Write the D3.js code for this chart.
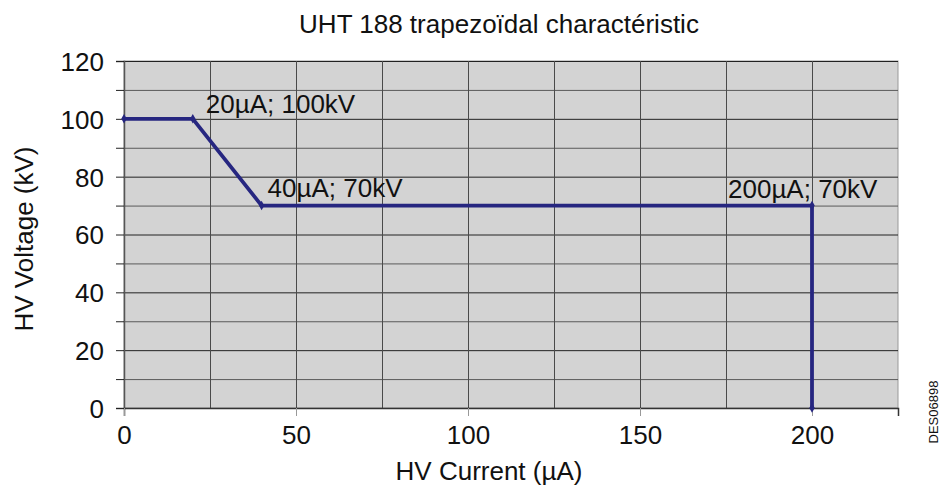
<!DOCTYPE html>
<html>
<head>
<meta charset="utf-8">
<script src="https://cdn.jsdelivr.net/npm/d3@7"></script>
<style>
  body { margin: 0; background: #fff; }
  text { font-family: "Liberation Sans", Arial, sans-serif; fill: #111; }
</style>
</head>
<body>
<script>
// data
var currents = [0, 20, 40, 200, 200];
var voltages = [100, 100, 70, 70, 0];
var labelIdx = [1, 2, 3];
var labelText = ["20\u00b5A; 100kV", "40\u00b5A; 70kV", "200\u00b5A; 70kV"];
var xTicks = [0, 50, 100, 150, 200];
var yTicks = [0, 20, 40, 60, 80, 100, 120];

var W = 941, H = 489;
var m = {left: 124, right: 43, top: 61, bottom: 81};
var FS = 26;

var svg = d3.select("body").append("svg")
    .attr("width", W).attr("height", H);

var x = d3.scaleLinear().domain([0, 225]).range([m.left, W - m.right]);
var y = d3.scaleLinear().domain([0, 120]).range([H - m.bottom, m.top]);

// plot background
svg.append("rect")
    .attr("x", x(0)).attr("y", y(120))
    .attr("width", x(225) - x(0)).attr("height", y(0) - y(120))
    .attr("fill", "#d3d3d3")
    .attr("stroke", "#999").attr("stroke-width", 1);

// horizontal grid every 10
svg.append("g").selectAll("line")
  .data(d3.range(10, 130, 10))
  .join("line")
    .attr("x1", x(0)).attr("x2", x(225))
    .attr("y1", d => y(d) + 0.5).attr("y2", d => y(d) + 0.5)
    .attr("stroke", d => d % 20 == 0 ? "#222" : "#5a5a5a")
    .attr("stroke-width", 1);

// vertical grid every 25
svg.append("g").selectAll("line")
  .data(d3.range(25, 225, 25))
  .join("line")
    .attr("y1", y(0)).attr("y2", y(120))
    .attr("x1", d => x(d) + 0.5).attr("x2", d => x(d) + 0.5)
    .attr("stroke", "#4a4a4a")
    .attr("stroke-width", 1);

// axes
var yAxis = d3.axisLeft(y).tickValues(d3.range(0, 130, 10))
    .tickSize(8).tickPadding(12).tickFormat(d => yTicks.indexOf(d) >= 0 ? d : "");
var gy = svg.append("g").attr("transform", "translate(" + x(0) + ",0)").call(yAxis);
gy.select(".domain").attr("stroke", "#555").attr("stroke-width", 1.5);
gy.selectAll(".tick line").attr("stroke", "#222");
gy.selectAll("text").attr("font-size", FS).attr("dy", "0.36em")
    .style("font-family", "Liberation Sans, Arial, sans-serif").attr("fill", "#111");

var xAxis = d3.axisBottom(x).tickValues(xTicks).tickSize(8).tickPadding(10).tickFormat(d3.format("d"));
var gx = svg.append("g").attr("transform", "translate(0," + y(0) + ")").call(xAxis);
gx.select(".domain").attr("stroke", "#333").attr("stroke-width", 1.5);
gx.selectAll(".tick line").attr("stroke", "#999");
gx.selectAll("text").attr("font-size", FS).attr("dy", "0.71em")
    .style("font-family", "Liberation Sans, Arial, sans-serif").attr("fill", "#111");

// the characteristic
var pts = currents.map((c, i) => [c, voltages[i]]);
var line = d3.line().x(d => x(d[0])).y(d => y(d[1]));
svg.append("path").datum(pts)
    .attr("d", line)
    .attr("fill", "none")
    .attr("stroke", "#262680")
    .attr("stroke-width", 3.8)
    .attr("stroke-linejoin", "round");

svg.append("g").selectAll("path")
  .data(pts)
  .join("path")
    .attr("transform", d => "translate(" + x(d[0]) + "," + y(d[1]) + ")")
    .attr("d", d3.symbol(d3.symbolDiamond, 26))
    .attr("fill", "#262680");

// point labels
var offX = [13, 6, -84], offY = [-6, -9, -8];
svg.append("g").selectAll("text")
  .data(labelIdx)
  .join("text")
    .attr("x", (d, i) => x(currents[d]) + offX[i])
    .attr("y", (d, i) => y(voltages[d]) + offY[i])
    .attr("font-size", FS)
    .text((d, i) => labelText[i]);

// titles
svg.append("text").attr("x", 499).attr("y", 33).attr("text-anchor", "middle")
    .attr("font-size", FS).text("UHT 188 trapezo\u00efdal charact\u00e9ristic");
svg.append("text").attr("x", 489).attr("y", 480).attr("text-anchor", "middle")
    .attr("font-size", FS).text("HV Current (\u00b5A)");
svg.append("text").attr("transform", "translate(33,239) rotate(-90)")
    .attr("text-anchor", "middle").attr("font-size", FS).text("HV Voltage (kV)");
svg.append("text").attr("transform", "translate(938,412) rotate(-90)")
    .attr("text-anchor", "middle").attr("font-size", 13).text("DES06898");
</script>
</body>
</html>
